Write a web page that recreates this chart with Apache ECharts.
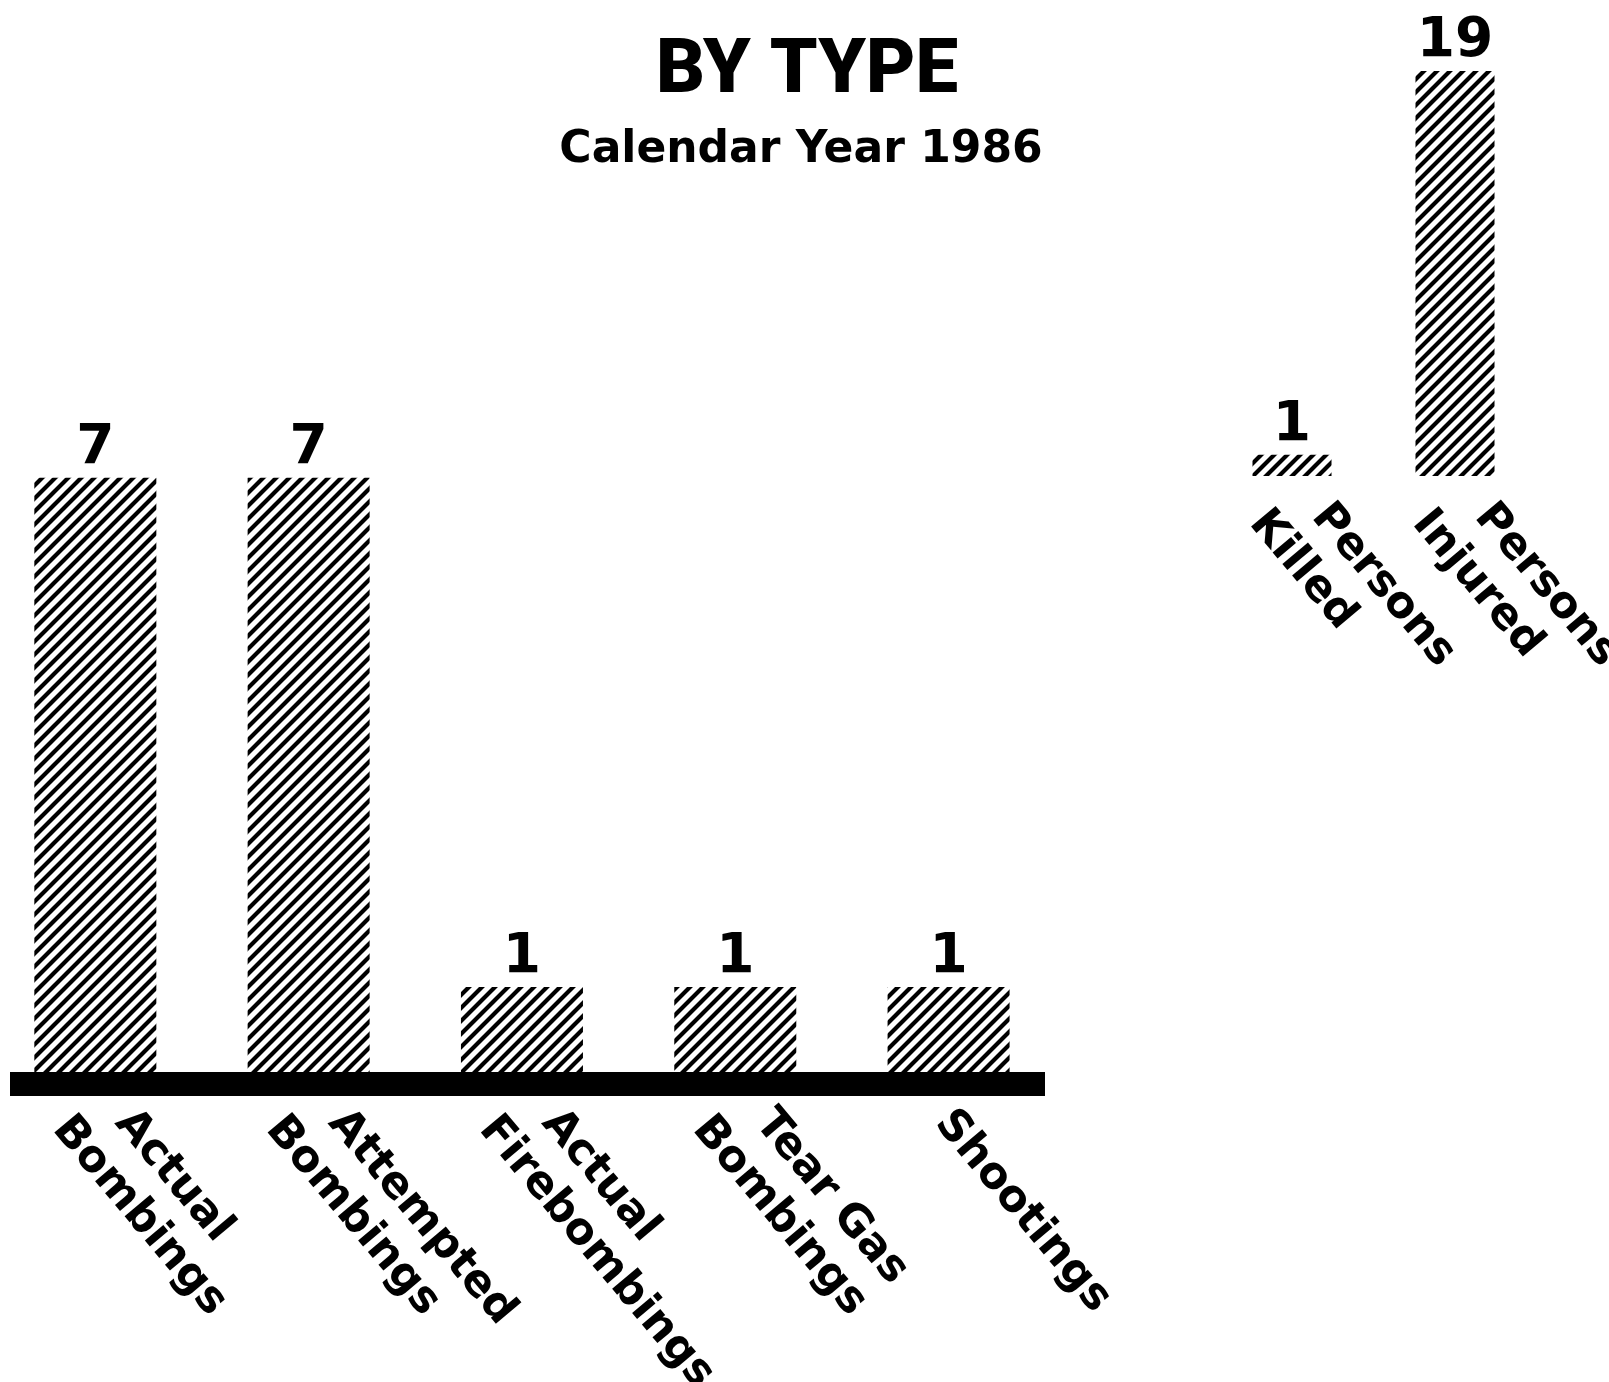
<!DOCTYPE html>
<html><head><meta charset="utf-8">
<script src="https://cdn.jsdelivr.net/npm/echarts@6/dist/echarts.min.js"></script>
<style>html,body{margin:0;padding:0;background:#fff}#c{width:1609px;height:1382px}</style>
</head><body><div id="c"></div>
<script>
// ---- data ----
const typeCategories = ['Actual\nBombings', 'Attempted\nBombings', 'Actual\nFirebombings', 'Tear Gas\nBombings', 'Shootings'];
const typeValues = [7, 7, 1, 1, 1];
const casualtyCategories = ['Persons\nKilled', 'Persons\nInjured'];
const casualtyValues = [1, 19];
const titleText = 'BY TYPE';
const subtitleText = 'Calendar Year 1986';

// ---- styling ----
const font = 'DejaVu Sans';
function hatch() {
  const s = 13;
  const c = document.createElement('canvas');
  c.width = s; c.height = s;
  const g = c.getContext('2d');
  g.fillStyle = '#fff'; g.fillRect(0, 0, s, s);
  g.strokeStyle = '#000'; g.lineWidth = 4.2;
  g.beginPath();
  g.moveTo(-3, s + 3); g.lineTo(s + 3, -3);
  g.moveTo(-3, 3); g.lineTo(3, -3);
  g.moveTo(s - 3, s + 3); g.lineTo(s + 3, s - 3);
  g.stroke();
  return c;
}
const pattern = { image: hatch(), repeat: 'repeat' };

function catLabel(name) {
  const parts = String(name).split('\n');
  if (parts.length === 1) return '{c|' + parts[0] + '}';
  return '{a|' + parts[0] + '}\n{b|' + parts[1] + '}';
}
const tok = { fontFamily: font, fontWeight: 'bold', fontSize: 44, lineHeight: 52, color: '#000' };
function axisLabelStyle(margin) {
  return {
    show: true, rotate: -50, margin: margin, hideOverlap: false,
    color: '#000', fontFamily: font, fontWeight: 'bold', fontSize: 44, lineHeight: 52,
    padding: [39, 0, 0, 0],
    rich: {
      a: Object.assign({ padding: [0, 0, 0, 35] }, tok),
      b: Object.assign({}, tok),
      c: Object.assign({ padding: [0, 0, 0, 14] }, tok)
    }
  };
}
const valueLabel = {
  show: true, position: 'top', distance: 9,
  fontFamily: font, fontWeight: 'bold', fontSize: 55, lineHeight: 40, color: '#000',
  formatter: p => String(Array.isArray(p.value) ? p.value[1] : p.value)
};

const chart = echarts.init(document.getElementById('c'));
chart.setOption({
  animation: false,
  backgroundColor: '#fff',
  title: [
    { text: titleText, left: 802, top: 30, textAlign: 'center',
      textStyle: { fontFamily: 'Roboto', fontWeight: 900, fontSize: 76, lineHeight: 76, color: '#000' } },
    { text: subtitleText, left: 796, top: 124, textAlign: 'center',
      textStyle: { fontFamily: font, fontWeight: 'bold', fontSize: 44, lineHeight: 44, color: '#000' } }
  ],
  grid: [
    { left: 10, width: 1035, top: 477.7, height: 606.3, outerBoundsMode: 'none', containLabel: false },
    { left: 1210.5, width: 326, top: 71, height: 405, outerBoundsMode: 'none', containLabel: false }
  ],
  xAxis: [
    { gridIndex: 0, type: 'value', min: -0.4, max: 4.452,
      splitLine: { show: false }, axisTick: { show: false },
      axisLine: { show: true, onZero: false, lineStyle: { color: '#000', width: 24, cap: 'butt' } },
      axisLabel: Object.assign(axisLabelStyle(9), {
        customValues: typeCategories.map((_, i) => i),
        formatter: v => catLabel(typeCategories[Math.round(v)])
      }) },
    { gridIndex: 1, type: 'category', data: casualtyCategories, boundaryGap: true,
      splitLine: { show: false }, axisTick: { show: false },
      axisLine: { show: false },
      axisLabel: Object.assign(axisLabelStyle(11), { interval: 0, formatter: v => catLabel(v) }) }
  ],
  yAxis: [
    { gridIndex: 0, type: 'value', min: -0.1413, max: 7, show: false },
    { gridIndex: 1, type: 'value', min: 0, max: 19, show: false }
  ],
  series: [
    { type: 'bar', xAxisIndex: 0, yAxisIndex: 0, barWidth: 122,
      data: typeValues.map((v, i) => [i, v]),
      itemStyle: { color: pattern }, label: valueLabel },
    { type: 'bar', xAxisIndex: 1, yAxisIndex: 1, barWidth: 79,
      data: casualtyValues,
      itemStyle: { color: pattern }, label: valueLabel }
  ]
});
</script>
</body></html>
